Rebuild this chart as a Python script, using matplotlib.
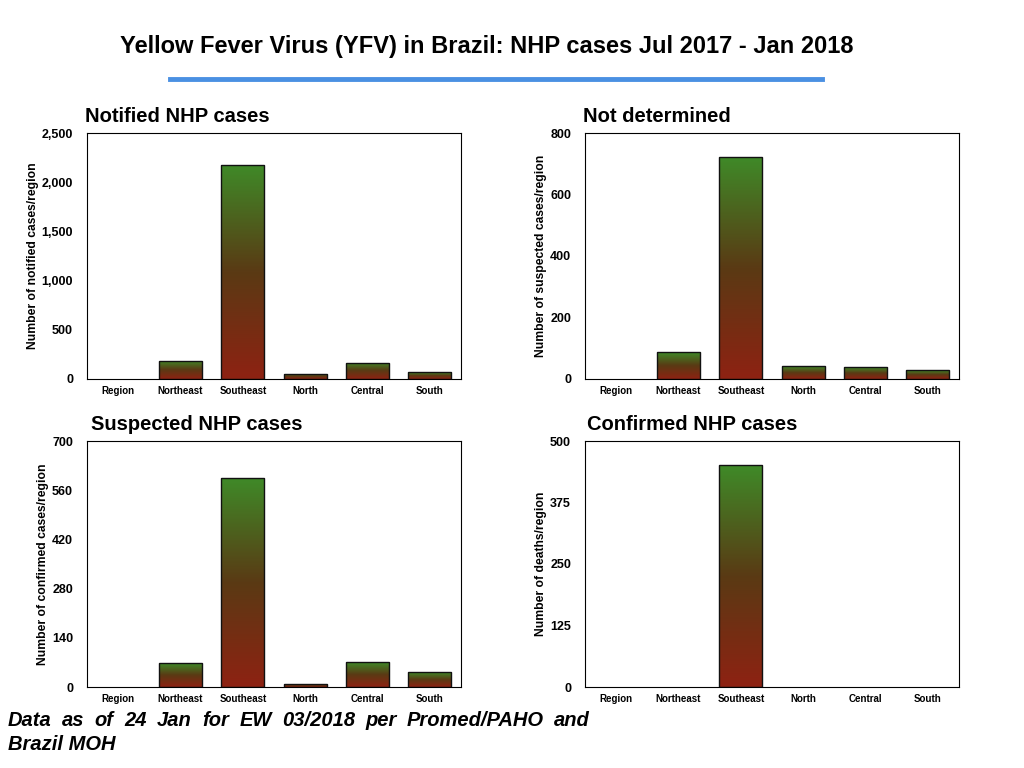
import numpy as np
import matplotlib
matplotlib.use("Agg")
import matplotlib.pyplot as plt
from matplotlib.colors import LinearSegmentedColormap

plt.rcParams['font.family'] = ['Liberation Sans', 'DejaVu Sans']

regions = ["Region", "Northeast", "Southeast", "North", "Central", "South"]

notified = [0, 183, 2175, 51, 163, 68]
not_determined = [0, 87, 722, 42, 39, 29]
suspected = [0, 67, 595, 9, 70, 42]
confirmed = [0, 0, 451, 0, 0, 0]

panel_titles = ["Notified NHP cases", "Not determined", "Suspected NHP cases", "Confirmed NHP cases"]
ylabels = ["Number of notified cases/region", "Number of suspected cases/region",
           "Number of confirmed cases/region", "Number of deaths/region"]
yticks = [[0, 500, 1000, 1500, 2000, 2500],
          [0, 200, 400, 600, 800],
          [0, 140, 280, 420, 560, 700],
          [0, 125, 250, 375, 500]]
series = [notified, not_determined, suspected, confirmed]

note_line1 = "Data as of 24 Jan for EW 03/2018 per Promed/PAHO and"
note_line2 = "Brazil MOH"

# red at bottom, green at top
grad = LinearSegmentedColormap.from_list("rg", ["#8e2212", "#5a3a14", "#3f8a28"])

fig = plt.figure(figsize=(10.24, 7.68), dpi=100)

fig.text(0.475, 0.94, "Yellow Fever Virus (YFV) in Brazil: NHP cases Jul 2017 - Jan 2018",
         ha="center", va="center", fontsize=17, fontweight="bold")
fig.add_artist(plt.Line2D([170 / 1024, 822 / 1024], [1 - 79 / 768, 1 - 79 / 768],
                          color="#4a90e2", linewidth=3.5))

# axes boxes in pixels (left, top)
boxes = [(87, 133), (585, 133), (87, 441), (585, 441)]
title_x = [85, 583, 91, 587]

for i in range(4):
    left, top = boxes[i]
    ax = fig.add_axes([left / 1024, 1 - (top + 246) / 768, 374 / 1024, 246 / 768])
    vals = series[i]
    x = np.arange(len(regions))
    lw = [1 if v > 0 else 0 for v in vals]
    bars = ax.bar(x, vals, width=0.69, color="none", edgecolor="#111111", linewidth=lw, zorder=3)
    ymax = yticks[i][-1]
    g = np.linspace(0, 1, 256).reshape(-1, 1)
    for b, v in zip(bars, vals):
        if v <= 0:
            continue
        im = ax.imshow(g, cmap=grad, origin="lower", aspect="auto",
                       extent=[b.get_x(), b.get_x() + b.get_width(), 0, v], zorder=2)
        im.set_clip_path(b)
    ax.set_xlim(-0.5, 5.5)
    ax.set_ylim(0, ymax)
    ax.set_xticks(x)
    ax.set_xticklabels(regions, fontsize=7, fontweight="bold")
    ax.set_yticks(yticks[i])
    ax.set_yticklabels(["{:,}".format(t) for t in yticks[i]], fontsize=9, fontweight="bold")
    ax.tick_params(axis="x", length=0, pad=5)
    ax.tick_params(axis="y", length=0, pad=10)
    ax.set_ylabel(ylabels[i], fontsize=8.7, fontweight="bold", labelpad=2)
    for s in ax.spines.values():
        s.set_linewidth(0.8)
    fig.text(title_x[i] / 1024, 1 - (top - 17) / 768, panel_titles[i],
             ha="left", va="center", fontsize=14.5, fontweight="bold")

# justified first line of the note, from x=8 to x=590
renderer = fig.canvas.get_renderer()
words = note_line1.split()
objs = [fig.text(0, 1 - 721 / 768, w, ha="left", va="center", fontsize=14.5,
                 fontweight="bold", style="italic") for w in words]
widths = [o.get_window_extent(renderer).width for o in objs]
gap = (590 - 8 - sum(widths)) / (len(words) - 1)
xpos = 8
for o, w in zip(objs, widths):
    o.set_x(xpos / 1024)
    xpos += w + gap
fig.text(8 / 1024, 1 - 745 / 768, note_line2,
         ha="left", va="center", fontsize=14.5, fontweight="bold", style="italic")

fig.savefig("out.png", dpi=100)
